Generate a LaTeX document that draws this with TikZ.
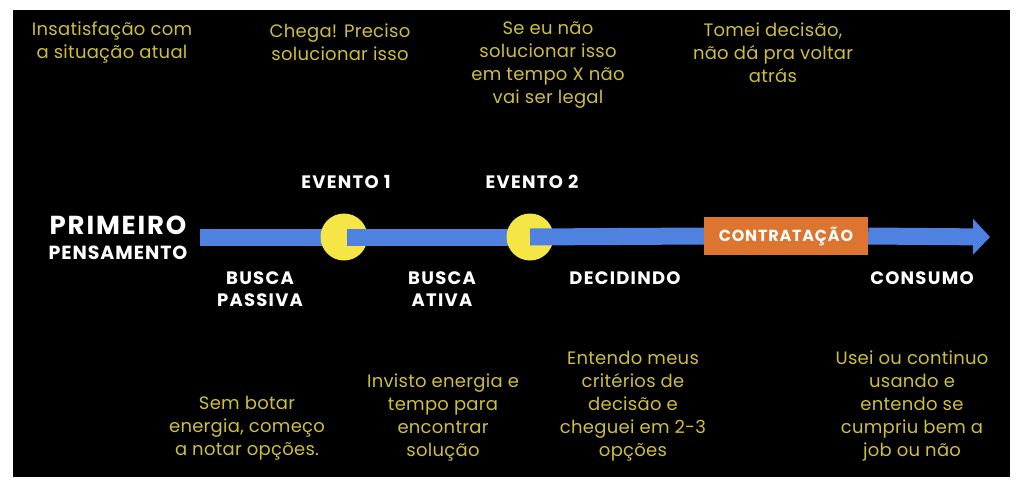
\documentclass[tikz,border=0pt]{standalone}
\usepackage{fontspec}
\setmainfont{Poppins}
\usetikzlibrary{arrows.meta}
\definecolor{bgblack}{HTML}{000000}
\definecolor{barblue}{HTML}{4F82E0}
\definecolor{evyellow}{HTML}{F5E646}
\definecolor{boxorange}{HTML}{DD7531}
\definecolor{txtyellow}{HTML}{CDBE3C}
\tikzset{
  bar/.style={draw=barblue,line width=17pt},
  evdot/.style={circle,fill=evyellow,minimum size=47pt,inner sep=0pt},
  note/.style={text=txtyellow,align=center,font=\fontsize{18}{23}\selectfont\addfontfeature{LetterSpace=1.5}},
  phase/.style={text=white,align=center,font=\fontsize{18}{22}\selectfont\bfseries\addfontfeature{LetterSpace=7}},
}
\begin{document}
\begin{tikzpicture}[x=1pt,y=-1pt]
\fill[white] (0,0) rectangle (1024,490);
\useasboundingbox (0,0) rectangle (1024,490);
\fill[bgblack] (13,10) rectangle (1010,477);
% timeline
\coordinate (start) at (200,237);
\coordinate (c1) at (344,237);
\coordinate (c2) at (530,237);
\coordinate (tip) at (990,237);
\draw[bar] (start) -- (c1);
\node[evdot] (e1) at (c1) {};
\draw[bar] ([xshift=3pt]e1.center) -- (c2);
\node[evdot] (e2) at (c2) {};
\node[fill=boxorange,text=white,minimum width=164pt,minimum height=38pt,inner sep=0pt,font=\fontsize{16}{18}\selectfont\bfseries\addfontfeature{LetterSpace=5}] (contr) at (786,236) {CONTRATAÇÃO};
\draw[bar] (e2.center) -- (contr.west);
\draw[bar,-{Triangle[length=17pt,width=35pt]}] (contr.east) -- (tip);
% white labels
\node[text=white,font=\fontsize{26}{28}\selectfont\bfseries\addfontfeature{LetterSpace=7}] (prim) at (118,225) {PRIMEIRO};
\node[text=white,font=\fontsize{19}{22}\selectfont\bfseries\addfontfeature{LetterSpace=5}] (pens) at (118,253) {PENSAMENTO};
\node[phase] (ev1) at (346,182) {EVENTO 1};
\node[phase] (ev2) at (532,182) {EVENTO 2};
\node[phase] (bp) at (260,289) {BUSCA\\PASSIVA};
\node[phase] (ba) at (442,289) {BUSCA\\ATIVA};
\node[phase] (dec) at (625,278) {DECIDINDO};
\node[phase] (cons) at (922,278) {CONSUMO};
% yellow notes
\node[note] (n1) at (112,42) {Insatisfação com\\a situação atual};
\node[note] (n2) at (340,42) {Chega! Preciso\\solucionar isso};
\node[note] (n3) at (548,65) {Se eu não\\solucionar isso\\em tempo X não\\vai ser legal};
\node[note] (n4) at (773,53) {Tomei decisão,\\não dá pra voltar\\atrás};
\node[note] (n5) at (247,428) {Sem botar\\energia, começo\\a notar opções.};
\node[note] (n6) at (443,417) {Invisto energia e\\tempo para\\encontrar\\solução};
\node[note] (n7) at (633,406) {Entendo meus\\critérios de\\decisão e\\cheguei em 2-3\\opções};
\node[note] (n8) at (912,406) {Usei ou continuo\\usando e\\entendo se\\cumpriu bem a\\job ou não};
\end{tikzpicture}
\end{document}
